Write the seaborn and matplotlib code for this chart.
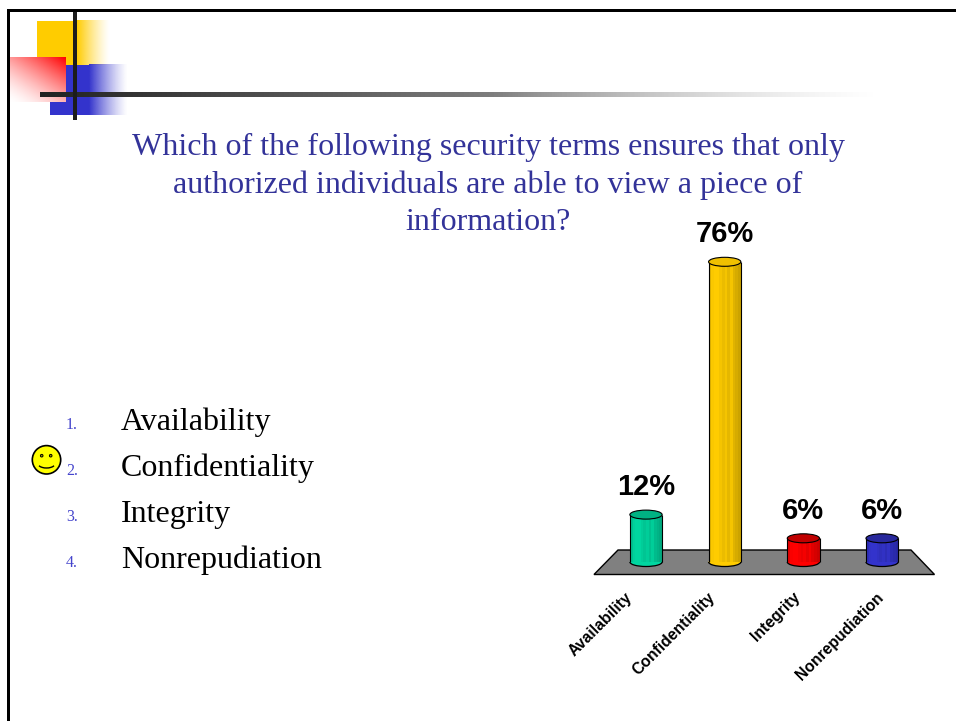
import numpy as np
import pandas as pd
import matplotlib
matplotlib.use("Agg")
import matplotlib.pyplot as plt
from matplotlib.patches import Ellipse, Arc, Polygon, Rectangle, Circle
from matplotlib.transforms import ScaledTranslation
import seaborn as sns

# ---- data ----
categories = ["Availability", "Confidentiality", "Integrity", "Nonrepudiation"]
percentages = [12, 76, 6, 6]
bar_colors = ["#00D6A0", "#FFCC00", "#FF0000", "#3333CC"]
top_colors = ["#00B283", "#F0C000", "#C00000", "#28289C"]
title_lines = [
    "Which of the following security terms ensures that only",
    "authorized individuals are able to view a piece of",
    "information?",
]
answer_numbers = ["1.", "2.", "3.", "4."]
label_shift_px = [-16, -12, -6, -1]

W, H = 956, 721
sns.set_theme(style="white")
plt.rcParams["font.family"] = ["Liberation Sans", "DejaVu Sans"]
fig = plt.figure(figsize=(W / 100, H / 100), dpi=100, facecolor="white")

# ---- slide layer, in pixel coordinates ----
bg = fig.add_axes([0, 0, 1, 1], zorder=0)
bg.set_axis_off()


def fade_h(color, x0, x1, y0, y1, zorder):
    rgba = np.zeros((1, 256, 4))
    rgba[..., :3] = matplotlib.colors.to_rgb(color)
    rgba[..., 3] = np.linspace(1, 0, 256) ** 1.3
    bg.imshow(rgba, extent=(x0, x1, y1, y0), aspect="auto", zorder=zorder, interpolation="bilinear")


bg.add_patch(Rectangle((37, 21), 40, 44, fc="#FFCC00", ec="none", zorder=1))
fade_h("#FFCC00", 77, 110, 20, 65, 1)
bg.add_patch(Rectangle((50, 65), 39, 50, fc="#3333CC", ec="none", zorder=2))
fade_h("#3333CC", 89, 128, 64, 115, 2)

# red diagonal fade to white, opaque over the other squares
yy, xx = np.mgrid[0:1:64j, 0:1:64j]
amount = (0.45 * xx + 0.55 * (1 - yy)) ** 1.5
red = np.ones((64, 64, 3))
red[..., 1] = 1 - amount
red[..., 2] = 1 - amount
bg.imshow(red, extent=(10, 66, 102, 57), aspect="auto", zorder=3, interpolation="bilinear")

# bars of the slide template
bar_rgba = np.zeros((1, 512, 4))
bar_rgba[0, :, :3] = np.linspace(0.13, 0.8, 512)[:, None]
bar_rgba[0, :, 3] = np.clip((1 - np.linspace(0, 1, 512)) * 2.2, 0, 1)
bg.imshow(bar_rgba, extent=(40, 875, 97, 92.5), aspect="auto", zorder=4, interpolation="bilinear")
bg.add_patch(Rectangle((73, 9), 4, 111, fc="#1C1C1C", ec="none", zorder=5))

# frame
bg.add_patch(Rectangle((7, 9), W, 3, fc="black", ec="none", zorder=6))
bg.add_patch(Rectangle((7, 9), 3, H, fc="black", ec="none", zorder=6))

bg.set_xlim(0, W)
bg.set_ylim(H, 0)

# floor of the 3-D chart
bg.add_patch(Polygon([(594, 574.5), (934.5, 574.5), (911, 550), (618, 550)],
                     closed=True, fc="#808080", ec="black", lw=1.0, zorder=2))

# title
for line, y in zip(title_lines, [147, 185, 223]):
    bg.text(488, y, line, family="Liberation Serif", fontsize=23, color="#333399",
            ha="center", va="center")

# answer list
for i, (num, name) in enumerate(zip(answer_numbers, categories)):
    y = 429 + 46 * i
    bg.text(66, y, num, family="Liberation Serif", fontsize=11.5, color="#4444CC",
            ha="left", va="baseline")
    bg.text(121, y + 1, name, family="Liberation Serif", fontsize=23, color="black",
            ha="left", va="baseline")

# smiley
bg.add_patch(Circle((46.5, 459.8), 14.2, fc="#FFFF00", ec="black", lw=1.2, zorder=3))
bg.add_patch(Circle((41.7, 455.7), 1.3, fc="#A0A000", ec="black", lw=0.7, zorder=4))
bg.add_patch(Circle((50.7, 455.7), 1.3, fc="#A0A000", ec="black", lw=0.7, zorder=4))
bg.add_patch(Arc((46.5, 463), 18, 10, theta1=20, theta2=160, ec="black", lw=1.0, zorder=4))

# ---- chart layer ----
px_left, px_right, px_top, px_bottom = 594, 935, 240, 580
ax = fig.add_axes([px_left / W, 1 - px_bottom / H, (px_right - px_left) / W, (px_bottom - px_top) / H],
                  zorder=1)
ax.patch.set_alpha(0)
spacing = 78.7
per_pct = 3.95
zero_px = 562

df = pd.DataFrame({"term": categories, "pct": percentages})
sns.barplot(data=df, x="term", y="pct", hue="term", order=categories, hue_order=categories,
            palette=bar_colors, saturation=1, width=0.41, legend=False, ax=ax, zorder=3,
            linewidth=0)
ax.set_xlim(-(646 - px_left) / spacing, (px_right - 646) / spacing)
ax.set_ylim((zero_px - px_bottom) / per_pct, (zero_px - px_top) / per_pct)

ell_h = 9 / per_pct
shade = [0.10, 0.02, 0, 0, 0.04, 0.08, 0.04, 0.10, 0.04, 0.12, 0.16, 0.20]
for patch, col, top in zip(ax.patches, bar_colors, top_colors):
    x, w, h = patch.get_x(), patch.get_width(), patch.get_height()
    cx = x + w / 2
    patch.set_edgecolor("none")
    ax.add_patch(Ellipse((cx, 0), w, ell_h, fc=col, ec="none", zorder=2, clip_on=False))
    ax.add_patch(Arc((cx, 0), w, ell_h, theta1=180, theta2=360, ec="black", lw=0.9, zorder=6, clip_on=False))
    sw = w / len(shade)
    for k, s in enumerate(shade):
        ax.add_patch(Rectangle((x + k * sw, 0), sw, h, fc="black", ec="none", lw=0, alpha=s, zorder=4))
    ax.plot([x, x], [0, h], color="black", lw=0.8, zorder=6, solid_capstyle="butt")
    ax.plot([x + w, x + w], [0, h], color="black", lw=0.8, zorder=6, solid_capstyle="butt")
    ax.add_patch(Ellipse((cx, h), w, ell_h, fc=top, ec="black", lw=0.8, zorder=7, clip_on=False))

# value labels
for patch, value in zip(ax.patches, percentages):
    ax.annotate(f"{value}%", xy=(patch.get_x() + patch.get_width() / 2, patch.get_height()),
                xytext=(0, 14), textcoords="offset points", ha="center", va="baseline",
                fontsize=21, fontweight="bold", color="black", zorder=8, annotation_clip=False)

ax.set_xlabel("")
ax.set_ylabel("")
ax.set_yticks([])
ax.set_xticks(range(len(categories)))
ax.set_xticklabels(categories, rotation=45, ha="right", va="center", rotation_mode="anchor",
                   fontsize=11.3, fontweight="bold", color="black")
ax.tick_params(axis="x", length=0, pad=0)
for lab, dx in zip(ax.get_xticklabels(), label_shift_px):
    lab.set_transform(lab.get_transform() + ScaledTranslation(dx / 100, -15 / 100, fig.dpi_scale_trans))
sns.despine(ax=ax, left=True, bottom=True)

fig.savefig("out.png", dpi=100, facecolor="white")
